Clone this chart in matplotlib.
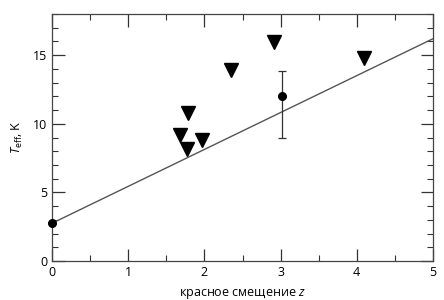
import matplotlib
matplotlib.use("Agg")
import matplotlib.pyplot as plt
from matplotlib.ticker import MultipleLocator

plt.rcParams['font.family'] = ['Open Sans', 'DejaVu Sans']
plt.rcParams['mathtext.fontset'] = 'custom'
plt.rcParams['mathtext.it'] = 'Open Sans:italic'
plt.rcParams['mathtext.rm'] = 'Open Sans'

# measured points
z_meas = [0.0, 3.02]
t_meas = [2.75, 12.05]
t_err_low = [0.0, 3.05]
t_err_high = [0.0, 1.8]

# upper limits
z_lim = [1.68, 1.78, 1.77, 1.97, 2.35, 2.91, 4.09]
t_lim = [9.15, 10.75, 8.15, 8.85, 13.95, 15.95, 14.8]

# fit line
z_line = [0.0, 5.0]
t_line = [2.75, 16.2]

fig = plt.figure(figsize=(4.44, 3.0), dpi=100)
ax = fig.add_axes([52/444, 1-261/300, (433-52)/444, (261-14)/300])

ax.plot(z_line, t_line, color='#555555', lw=1.0, zorder=2)
eb = ax.errorbar(z_meas, t_meas, yerr=[t_err_low, t_err_high], fmt='o', color='black',
                 ms=5.5, ecolor='#333333', elinewidth=0.9, capsize=3, capthick=0.9, zorder=3)
eb[0].set_clip_on(False)
ax.plot(z_lim, t_lim, 'v', color='black', ms=10, zorder=3, clip_on=False)

ax.set_xlim(0, 5)
ax.set_ylim(0, 18)
ax.xaxis.set_major_locator(MultipleLocator(1))
ax.xaxis.set_minor_locator(MultipleLocator(0.5))
ax.yaxis.set_major_locator(MultipleLocator(5))
ax.yaxis.set_minor_locator(MultipleLocator(1))
ax.tick_params(which='both', direction='in', top=True, right=True, labelsize=9, colors='#333333', labelcolor='black')
ax.tick_params(which='major', length=9, width=0.9)
ax.tick_params(which='minor', length=4.5, width=0.8)
for s in ax.spines.values():
    s.set_color('#444444')
    s.set_linewidth(0.9)

ax.set_xlabel('красное смещение $z$', fontsize=9, labelpad=6)
ax.set_ylabel('$T$$_{\\rm eff}$, K', fontsize=9, labelpad=6)

fig.savefig('out.png', dpi=100)
